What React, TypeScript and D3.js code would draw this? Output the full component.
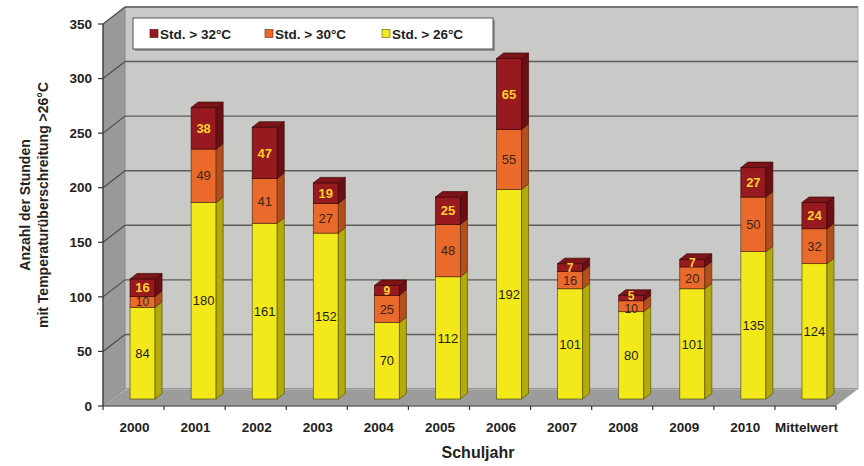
import React from "react";
import * as d3 from "d3";

const categories = ["2000", "2001", "2002", "2003", "2004", "2005", "2006", "2007", "2008", "2009", "2010", "Mittelwert"];
const over26 = [84, 180, 161, 152, 70, 112, 192, 101, 80, 101, 135, 124];
const over30 = [10, 49, 41, 27, 25, 48, 55, 16, 10, 20, 50, 32];
const over32 = [16, 38, 47, 19, 9, 25, 65, 7, 5, 7, 27, 24];
const yTicks = [0, 50, 100, 150, 200, 250, 300, 350];
const seriesNames = ["Std. > 32°C", "Std. > 30°C", "Std. > 26°C"];

const W = 864;
const H = 466;
const FONT = "'Liberation Sans', Arial, sans-serif";

// depth of the 3D box (floor / walls) and of the bars inside it
const DX = 22;
const DY = -17;
const BAR_OFF_X = 9;
const BAR_OFF_Y = -7;
const BAR_DX = 7;
const BAR_DY = -5.5;
const BAR_W = 25;
const LABEL_SIZE = 13;

const palette = [
  { front: "#f2e81a", side: "#b3aa0c", top: "#d9d012", stroke: "#5a5500", text: "#1e1e1e", bold: false },
  { front: "#ea6a2c", side: "#b24f1d", top: "#cf5d25", stroke: "#5a2a10", text: "#3a2414", bold: false },
  { front: "#961a1f", side: "#6a0f13", top: "#7c1418", stroke: "#3e0808", text: "#ffd22a", bold: true },
];

export default function App() {
  const x = d3.scaleBand<string>().domain(categories).range([103, 836]).padding(0);
  const y = d3.scaleLinear().domain([0, 350]).range([406, 24]);

  const x0 = 103;
  const x1 = 836;
  const pts = (arr: [number, number][]) => arr.map((p) => p.join(",")).join(" ");

  const stacks = categories.map((c, i) => {
    const vals = [over26[i], over30[i], over32[i]];
    let base = 0;
    return vals.map((v, k) => {
      const seg = { cat: c, k, v, lo: base, hi: base + v };
      base += v;
      return seg;
    });
  });

  // label centres; thin upper segments get their labels spread apart
  const labelY = stacks.map((segs) => {
    const ys = segs.map((s) => (y(s.lo) + y(s.hi)) / 2 + BAR_OFF_Y);
    for (let k = 1; k < ys.length; k++) {
      const gap = ys[k - 1] - ys[k];
      if (gap < LABEL_SIZE) {
        const push = (LABEL_SIZE - gap) / 2;
        ys[k] -= push;
        if (k > 1) ys[k - 1] += push;
      }
    }
    return ys;
  });

  const legendX = [150, 265, 382];

  return (
    <svg
      width={W}
      height={H}
      style={{ position: "absolute", left: 0, top: 0, background: "#fff" }}
      fontFamily={FONT}
    >
      <rect x={0} y={0} width={W} height={H} fill="#fff" />

      {/* back wall */}
      <rect x={x0 + DX} y={y(350) + DY} width={x1 - x0} height={y(0) - y(350)} fill="#c9c9c7" stroke="#a9a9a9" strokeWidth={1} />
      {/* left side wall */}
      <polygon
        points={pts([
          [x0, y(350)],
          [x0 + DX, y(350) + DY],
          [x0 + DX, y(0) + DY],
          [x0, y(0)],
        ])}
        fill="#999999"
        stroke="#8a8a8a"
        strokeWidth={0.8}
      />
      {/* gridlines on both walls */}
      {yTicks.map((t) => (
        <g key={"g" + t}>
          <line x1={x0 + DX} x2={x1 + DX} y1={y(t) + DY} y2={y(t) + DY} stroke="#5c5c5c" strokeWidth={1.4} />
          <line x1={x0} x2={x0 + DX} y1={y(t)} y2={y(t) + DY} stroke="#4c4c4c" strokeWidth={1.2} />
        </g>
      ))}
      {/* floor */}
      <polygon
        points={pts([
          [x0, y(0)],
          [x1, y(0)],
          [x1 + DX, y(0) + DY],
          [x0 + DX, y(0) + DY],
        ])}
        fill="#9c9c9c"
        stroke="#cfcfcf"
        strokeWidth={0.8}
      />

      {/* y axis */}
      <line x1={x0} x2={x0} y1={y(350)} y2={y(0)} stroke="#333" strokeWidth={1.2} />
      {yTicks.map((t) => (
        <g key={"yt" + t}>
          <line x1={x0 - 5} x2={x0} y1={y(t)} y2={y(t)} stroke="#333" strokeWidth={1.2} />
          <text x={92} y={y(t)} dy="0.35em" textAnchor="end" fontSize={13.5} fontWeight="bold" fill="#222">
            {t}
          </text>
        </g>
      ))}
      {/* x axis */}
      <line x1={x0} x2={x1} y1={y(0)} y2={y(0)} stroke="#333" strokeWidth={1.2} />
      {categories.concat(["__end"]).map((c, i) => {
        const xx = x0 + i * x.bandwidth();
        return <line key={"xt" + i} x1={xx} x2={xx} y1={y(0)} y2={y(0) + 4} stroke="#333" strokeWidth={1.2} />;
      })}
      {categories.map((c) => (
        <text key={"xl" + c} x={(x(c) as number) + x.bandwidth() / 2 + 1} y={432} textAnchor="middle" fontSize={13.5} fontWeight="bold" fill="#222">
          {c}
        </text>
      ))}

      {/* bars */}
      {stacks.map((segs, i) => {
        const left = (x(categories[i]) as number) + x.bandwidth() / 2 + BAR_OFF_X - BAR_W / 2;
        const right = left + BAR_W;
        const total = segs[segs.length - 1].hi;
        return (
          <g key={"bar" + i}>
            {segs.map((s) => {
              const col = palette[s.k];
              const yb = y(s.lo) + BAR_OFF_Y;
              const yt = y(s.hi) + BAR_OFF_Y;
              return (
                <g key={s.k}>
                  <rect x={left} y={yt} width={BAR_W} height={yb - yt} fill={col.front} stroke={col.stroke} strokeWidth={0.7} />
                  <polygon
                    points={pts([
                      [right, yb],
                      [right, yt],
                      [right + BAR_DX, yt + BAR_DY],
                      [right + BAR_DX, yb + BAR_DY],
                    ])}
                    fill={col.side}
                    stroke={col.stroke}
                    strokeWidth={0.7}
                  />
                  {s.hi === total && (
                    <polygon
                      points={pts([
                        [left, yt],
                        [right, yt],
                        [right + BAR_DX, yt + BAR_DY],
                        [left + BAR_DX, yt + BAR_DY],
                      ])}
                      fill={col.top}
                      stroke={col.stroke}
                      strokeWidth={0.7}
                    />
                  )}
                </g>
              );
            })}
          </g>
        );
      })}

      {/* value labels */}
      {stacks.map((segs, i) => {
        const cx = (x(categories[i]) as number) + x.bandwidth() / 2 + BAR_OFF_X;
        return segs.map((s, k) => {
          const col = palette[s.k];
          const small = s.k > 0 && y(s.lo) - y(s.hi) < LABEL_SIZE;
          return (
            <text
              key={"lb" + i + "-" + s.k}
              x={cx}
              y={labelY[i][k]}
              dy="0.36em"
              textAnchor="middle"
              fontSize={small ? 12 : LABEL_SIZE}
              fontWeight={col.bold ? "bold" : "normal"}
              fill={col.text}
            >
              {s.v}
            </text>
          );
        });
      })}

      {/* legend */}
      <rect x={135} y={20} width={360} height={31} fill="#8f8f8f" />
      <rect x={133} y={18} width={360} height={31} fill="#ffffff" stroke="#555" strokeWidth={1} />
      {seriesNames.map((name, j) => {
        const col = palette[2 - j];
        return (
          <g key={"lg" + j}>
            <rect x={legendX[j]} y={29.5} width={8} height={8} fill={col.front} stroke={col.stroke} strokeWidth={0.6} />
            <text x={legendX[j] + 10} y={34} dy="0.36em" fontSize={13.5} fontWeight="bold" fill="#222">
              {name}
            </text>
          </g>
        );
      })}

      {/* axis titles */}
      <text x={478} y={458} textAnchor="middle" fontSize={16} fontWeight="bold" fill="#222">
        Schuljahr
      </text>
      <g transform="translate(25,205) rotate(-90)">
        <text x={0} y={0} dy="0.35em" textAnchor="middle" fontSize={14} fontWeight="bold" fill="#222">
          Anzahl der Stunden
        </text>
        <text x={0} y={18} dy="0.35em" textAnchor="middle" fontSize={14} fontWeight="bold" fill="#222">
          mit Temperaturüberschreitung &gt;26°C
        </text>
      </g>
    </svg>
  );
}
